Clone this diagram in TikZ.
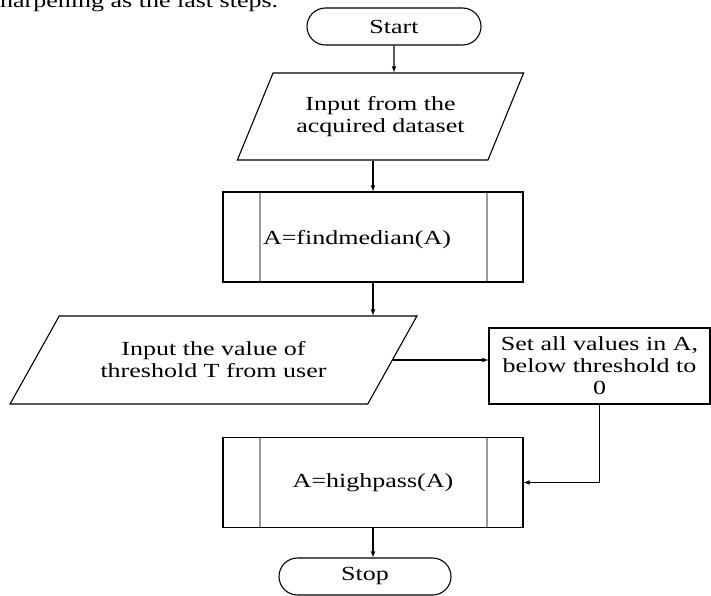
\documentclass[tikz,border=0pt]{standalone}
\usepackage{fontspec}
\setmainfont{Liberation Serif}[FakeStretch=1.3]
\usetikzlibrary{shapes.geometric,shapes.misc}

\begin{document}
\begin{tikzpicture}[x=1pt,y=-1pt,
    font=\fontsize{20}{22}\selectfont,
    >=latex % Pfeilspitzen
    ]
    \useasboundingbox (0,0) rectangle (711,596);

    \tikzset{
        Ablauf/.style={draw,line width=1.1pt,inner sep=2pt,align=center}, % alle Kaesten
        Grenze/.style={Ablauf,rounded rectangle,minimum width=#1,minimum height=37pt}, % Start, Stop
        Eingabe/.style={Ablauf,trapezium,trapezium stretches=true}, % Ein-/Ausgabe
        Unterprog/.style={Ablauf,rectangle,minimum width=300pt,minimum height=90pt,
            path picture={\draw[gray!80,line width=1.1pt]
                ([xshift=37pt]path picture bounding box.north west) -- ([xshift=37pt]path picture bounding box.south west)
                ([xshift=-36pt]path picture bounding box.north east) -- ([xshift=-36pt]path picture bounding box.south east);}},
        Pfeil/.style={->,line width=1.1pt} % Verbindungen
    }

    % abgeschnittene Zeile oben
    \node[anchor=base west,inner sep=0pt] (kopf) at (0,8) {harpening as the last steps.};

    % Kaesten
    \node[Grenze=178pt] (start) at (394,26.5) {Start};
    \node[Eingabe,minimum width=287pt,minimum height=87pt,
          trapezium left angle=57.2,trapezium right angle=122.8] (eingabe1) at (380.5,116.5)
          {Input from the\\acquired dataset};
    \node[Unterprog,text width=220pt,inner xsep=40pt,align=left,text depth=-8pt] (median) at (373,237) {A=findmedian(A)};
    \node[Eingabe,minimum width=407pt,minimum height=88pt,
          trapezium left angle=47.7,trapezium right angle=132.3] (eingabe2) at (213.5,360)
          {Input the value of\\threshold T from user};
    \node[Ablauf,rectangle,minimum width=221pt,minimum height=76pt] (schwelle) at (599.5,366)
          {Set all values in A,\\below threshold to\\0};
    \node[Unterprog] (hochpass) at (373,482.5) {A=highpass(A)};
    \node[Grenze=176pt] (stop) at (365,576.5) {Stop};

    % Pfeile
    \draw[Pfeil] (start) -- (start |- eingabe1.north);
    \draw[Pfeil] (eingabe1.south -| median.north) -- (median.north);
    \draw[Pfeil] (median) -- (median |- eingabe2.north);
    \draw[Pfeil] (eingabe2.east) -- (eingabe2.east -| schwelle.west);
    \draw[Pfeil] (schwelle.south) |- (hochpass.east);
    \draw[Pfeil] (hochpass) -- (hochpass |- stop.north);
\end{tikzpicture}
\end{document}
